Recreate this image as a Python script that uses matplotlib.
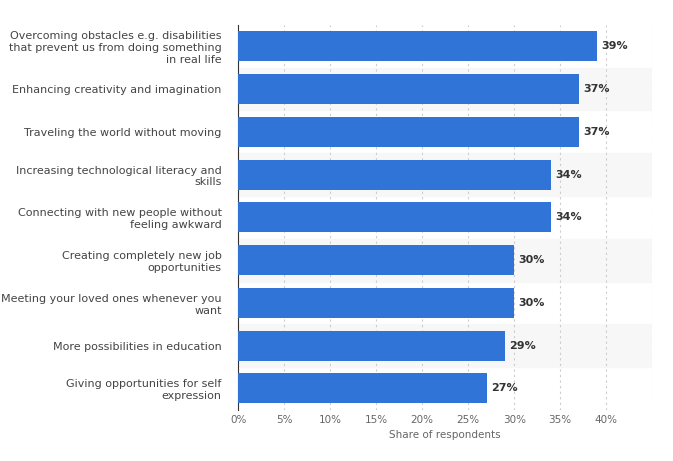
import matplotlib.pyplot as plt

# Data
labels = [
    "Overcoming obstacles e.g. disabilities\nthat prevent us from doing something\nin real life",
    "Enhancing creativity and imagination",
    "Traveling the world without moving",
    "Increasing technological literacy and\nskills",
    "Connecting with new people without\nfeeling awkward",
    "Creating completely new job\nopportunities",
    "Meeting your loved ones whenever you\nwant",
    "More possibilities in education",
    "Giving opportunities for self\nexpression",
]
values = [39, 37, 37, 34, 34, 30, 30, 29, 27]

fig = plt.figure(figsize=(6.73, 4.61), dpi=100)
ax = fig.add_axes([0.354, 0.111, 0.615, 0.835])

n = len(values)
ypos = list(range(n))
# alternating light row bands
for i in ypos:
    if i % 2 == 1:
        ax.axhspan(i - 0.5, i + 0.5, color="#f7f7f7", zorder=0)

ax.barh(ypos, values, height=0.7, color="#2f74d6", zorder=3)
for y, v in zip(ypos, values):
    ax.text(v + 0.5, y, f"{v}%", va="center", ha="left", fontsize=8,
            fontweight="bold", color="#333333", zorder=4)

ax.set_ylim(n - 0.5, -0.5)
ax.set_xlim(0, 45)
ax.set_xticks(range(0, 45, 5))
ax.set_xticklabels([f"{t}%" for t in range(0, 45, 5)])
ax.set_yticks(ypos)
ax.set_yticklabels(labels, fontsize=8, color="#444444")
ax.tick_params(axis="x", labelsize=7.5, colors="#666666", length=0)
ax.tick_params(axis="y", length=0, pad=12)
for x in range(5, 50, 5):
    ax.axvline(x, color="#cccccc", linestyle=(0, (2, 3)), linewidth=0.8, zorder=1)
for s in ["top", "right", "bottom"]:
    ax.spines[s].set_visible(False)
ax.spines["left"].set_color("#333333")
ax.set_xlabel("Share of respondents", fontsize=7.5, color="#666666", labelpad=4)

fig.savefig("out.png", dpi=100)
